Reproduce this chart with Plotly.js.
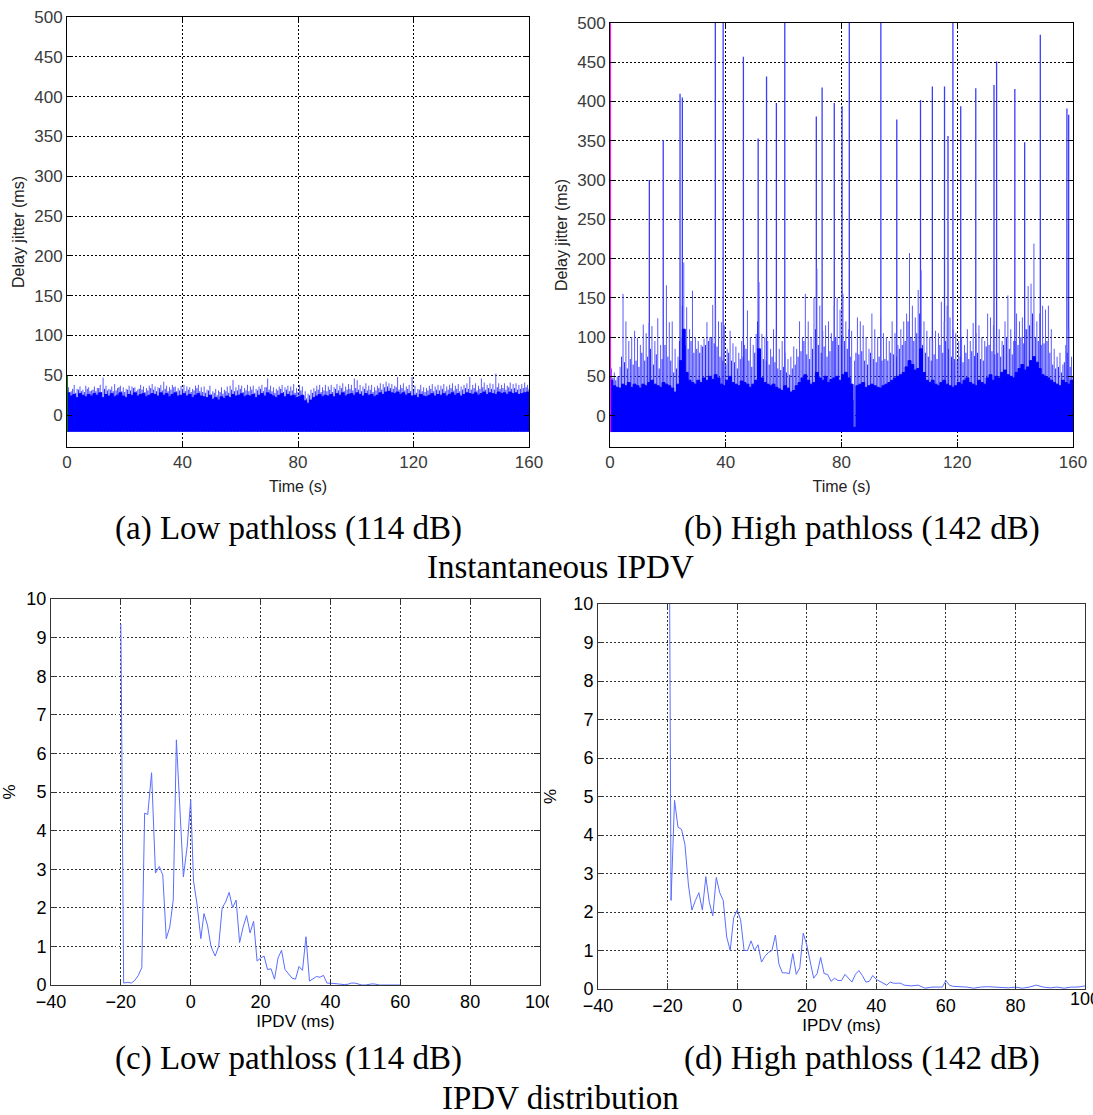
<!DOCTYPE html>
<html>
<head>
<meta charset="utf-8">
<script src="https://cdn.plot.ly/plotly-3.0.1.min.js"></script>
<style>html,body{margin:0;padding:0;background:#fff;}#chart{width:1093px;height:1115px;}</style>
</head>
<body>
<div id="chart"></div>
<script>
// ---------------- DATA ----------------
// (a) Low pathloss: per-second top of the dense band, of mid-height and of the tallest thin jitter lines (ms)
const lowTime = Array.from({length: 161}, (_, i) => i);
const lowDense = [
 28,24,26,22,27,25,23,26,24,27,
 25,28,22,26,24,27,23,25,28,24,
 22,26,25,28,24,26,27,23,25,27,
 26,24,28,25,27,23,26,28,24,25,
 27,24,26,22,25,27,24,23,22,25,
 20,22,19,23,21,24,22,26,24,25,
 27,23,25,24,26,22,25,27,24,28,
 26,24,22,25,27,23,26,24,25,22,
 23,25,18,15,19,22,24,26,23,25,
 24,26,23,27,25,28,24,26,27,25,
 28,26,24,27,25,26,23,25,28,26,
 29,30,28,27,29,26,28,25,27,24,
 25,22,26,24,23,25,27,24,26,25,
 27,24,26,28,25,27,24,26,28,27,
 26,28,25,27,29,26,28,27,26,29,
 27,28,26,29,27,28,26,27,28,29,
 27];
const lowMid = [
 31,29,33,28,32,30,29,33,30,32,
 30,34,29,33,31,32,30,31,35,30,
 29,32,31,34,30,33,32,29,31,34,
 32,30,34,31,33,30,32,35,30,31,
 33,30,32,29,31,34,30,29,28,31,
 26,28,25,29,27,30,28,32,30,31,
 33,29,31,30,32,28,31,33,30,35,
 32,30,28,31,33,29,32,30,31,28,
 29,31,24,21,25,28,30,32,29,31,
 30,32,29,33,31,34,30,32,33,31,
 34,32,30,33,31,32,29,31,34,32,
 35,36,34,33,35,32,34,31,33,30,
 31,28,32,30,29,31,33,30,32,31,
 33,30,32,34,31,33,30,32,34,33,
 32,34,31,33,35,32,34,33,32,35,
 33,34,32,35,33,34,32,33,34,35,
 33];
const lowPeak = [
 35,30,38,33,36,32,37,35,31,36,
 34,38,47,37,33,36,39,34,37,35,
 33,37,36,35,32,38,36,34,37,39,
 36,35,38,42,37,35,38,36,34,37,
 38,36,35,33,37,38,35,36,32,37,
 30,33,31,35,32,36,37,44,35,38,
 37,34,38,36,37,33,36,38,35,46,
 37,35,33,36,38,35,37,36,39,34,
 38,36,30,27,32,34,37,38,35,38,
 36,38,35,39,37,40,36,39,38,46,
 44,38,36,40,37,38,35,37,40,39,
 42,40,39,37,48,38,40,36,38,48,
 37,33,38,35,34,37,39,36,38,37,
 39,36,38,40,37,39,36,38,40,48,
 38,40,37,46,41,38,40,39,52,40,
 38,40,37,41,39,40,38,39,41,38,
 36];

// (b) High pathloss
const highTime = Array.from({length: 161}, (_, i) => i);
const highDense = [
 45,38,36,35,40,38,42,36,40,38,
 35,40,38,42,45,40,38,36,42,40,
 38,35,30,40,70,110,55,45,42,40,
 45,42,48,45,50,46,52,48,40,38,
 45,50,42,40,38,44,42,40,36,40,
 45,85,48,42,40,38,40,36,34,32,
 38,35,30,32,38,42,48,52,45,40,
 42,55,48,45,50,42,46,48,50,45,
 52,55,48,40,-15,38,40,42,36,38,
 40,38,36,35,38,40,42,45,48,50,
 52,55,62,70,65,58,60,85,55,45,
 42,45,40,38,42,45,40,38,36,38,
 42,40,45,48,42,40,38,45,42,40,
 48,52,45,50,48,55,58,52,50,48,
 55,60,65,58,62,70,75,68,60,52,
 50,48,45,42,40,38,45,42,40,45,
 40];
const highMid = [
 52,48,45,50,75,68,60,72,65,70,
 62,80,70,75,85,65,78,60,72,90,
 75,70,55,60,95,140,90,85,95,80,
 85,80,88,90,95,100,92,88,75,70,
 65,80,70,68,60,72,75,85,70,62,
 80,120,78,72,70,65,75,68,60,58,
 62,55,52,60,65,75,82,95,78,72,
 85,110,90,80,88,75,82,95,100,90,
 100,95,85,75,20,80,78,82,70,65,
 80,72,68,75,70,72,70,80,78,75,
 85,90,95,120,100,95,105,130,90,80,
 75,70,78,72,90,80,95,85,75,72,
 70,75,68,80,72,82,76,80,72,70,
 88,90,82,78,80,75,90,100,85,78,
 95,90,100,92,110,115,130,100,95,90,
 92,95,80,65,60,62,55,68,80,62,
 50];
const highPeak = [
 60,55,50,62,155,120,95,100,108,99,
 90,116,105,118,114,95,124,90,85,166,
 119,120,85,75,100,195,138,110,159,100,
 95,90,98,119,100,141,141,120,119,115,
 85,108,92,88,80,95,90,134,100,90,
 104,170,104,100,95,85,110,98,85,95,
 80,72,75,88,85,120,100,155,120,100,
 150,187,140,108,115,120,105,140,150,135,
 155,120,110,108,70,125,120,115,100,85,
 130,110,100,125,105,100,95,120,105,90,
 110,120,130,207,140,125,160,185,120,108,
 100,95,108,105,145,120,140,125,110,105,
 95,100,90,110,95,118,105,115,100,95,
 130,125,115,100,110,95,120,153,110,95,
 130,120,125,110,165,168,219,120,130,140,
 135,140,110,85,75,80,65,90,110,75,
 60];
const spikeTime = [13.6,18.4,24.2,25.0,36.4,39.1,46.1,51.2,54.1,57.5,60.4,71.3,73.3,77.5,80.2,82.7,93.6,99.1,107.3,111.4,115.6,116.8,118.5,121.2,126.4,132.7,133.6,139.9,143.3,148.7,157.9,158.5];
const spikeValue = [300,351,410,405,500,500,457,353,432,398,500,381,418,398,394,500,500,377,402,419,419,356,500,394,417,421,451,416,348,485,391,383];

// (c) / (d) IPDV distributions
const ipdvLow = [-20,-19.2,-18,-17,-16,-15,-14,-13.2,-12.3,-11.2,-10.1,-9,-8,-7,-6,-5,-4.1,-3,-2.1,-1,0,0.8,1.8,2.9,3.8,4.8,5.8,7,8,9,10,11,12,13,14,15,16,17,18,19,20,21,22,23,24,25,26,27,28,29,30,31,32,33,34,35,36,37,38,39,40,41,42,43,44,45,46,47,48,49,50,51,52,53,54,55,56,57,58,59,60];
const pctLow = [9.35,0.05,0.07,0.05,0.12,0.25,0.45,4.45,4.42,5.5,2.9,3.07,2.85,1.2,1.5,2.2,6.35,4.3,2.8,3.6,4.8,2.7,2.1,1.2,1.85,1.55,1.0,0.75,1.0,2.0,2.15,2.4,2.0,2.2,1.1,1.5,1.8,1.35,1.65,0.62,0.7,0.75,0.4,0.42,0.15,0.7,0.9,0.4,0.28,0.18,0.15,0.48,0.38,1.25,0.1,0.15,0.22,0.2,0.25,0.05,0.05,0.04,0.03,0.02,0.01,0.02,0.05,0.05,0.02,0.0,0.0,0.01,0.03,0.02,0.0,0.0,0.0,0.0,0.0,0.0,0.0];
const ipdvHigh = [-19.6,-19,-18,-17,-16,-15,-14,-13,-12,-11,-10,-9,-8,-7,-6,-5,-4,-3,-2,-1,0,1,2,3,4,5,6,7,8,9,10,11,12,13,14,15,16,17,18,19,20,21,22,23,24,25,26,27,28,29,30,31,32,33,34,35,36,37,38,39,40,41,42,43,44,45,46,47,48,50,52,53,54,56,58,59,60,61,62,64,66,68,70,72,74,76,78,80,82,84,86,88,90,92,94,96,98,100];
const pctHigh = [14,2.3,4.9,4.2,4.15,3.75,2.7,2.05,2.3,2.5,2.05,2.92,2.25,1.9,2.9,2.5,2.3,1.35,1.0,1.85,2.05,1.8,1.0,1.0,1.25,1.0,1.15,0.7,0.85,0.95,1.0,1.4,0.65,0.42,0.42,0.4,0.92,0.38,0.55,1.45,1.15,0.75,0.28,0.4,0.82,0.4,0.38,0.2,0.28,0.22,0.22,0.38,0.28,0.18,0.38,0.48,0.35,0.18,0.2,0.35,0.25,0.2,0.15,0.1,0.18,0.15,0.15,0.15,0.1,0.08,0.1,0.05,0.02,0.05,0.06,0.05,0.22,0.1,0.07,0.06,0.05,0.02,0.05,0.06,0.05,0.05,0.03,0.05,0.02,0.05,0.1,0.05,0.03,0.05,0.02,0.05,0.05,0.08];

const xTicksTop = [0,40,80,120,160];
const yTicksTop = [0,50,100,150,200,250,300,350,400,450,500];
const xTicksBot = [-40,-20,0,20,40,60,80,100];
const yTicksBot = [0,1,2,3,4,5,6,7,8,9,10];
const captions = ['(a) Low pathloss (114 dB)','(b) High pathloss (142 dB)','Instantaneous IPDV',
                  '(c) Low pathloss (114 dB)','(d) High pathloss (142 dB)','IPDV distribution'];

// ---------------- BUILD ----------------
const FLOOR = -21;
function stems(t, v, offset) {
  const vx = [], vy = [];
  t.forEach((ti, i) => { vx.push(ti + offset, ti + offset, null); vy.push(FLOOR, v[i], null); });
  return {vx, vy};
}
function bandTraces(t, dense, mid, peak, xa, ya) {
  const p = stems(t, peak, 0.5), m = stems(t, mid, 0.0);
  return [
    {x: p.vx, y: p.vy, xaxis: xa, yaxis: ya, mode: 'lines', line: {width: 1, color: 'rgb(90,90,255)'}, connectgaps: false},
    {x: m.vx, y: m.vy, xaxis: xa, yaxis: ya, mode: 'lines', line: {width: 1, color: 'rgb(40,40,255)'}, connectgaps: false},
    {x: t, y: t.map(() => FLOOR), xaxis: xa, yaxis: ya, mode: 'lines', line: {width: 0, color: 'blue'}, hoverinfo: 'skip'},
    {x: t, y: dense, xaxis: xa, yaxis: ya, mode: 'lines', fill: 'tonexty', fillcolor: 'rgb(0,0,255)', line: {width: 1, color: 'rgb(0,0,255)', shape: 'hv'}}
  ];
}
function spikeTrace(t, v, xa, ya) {
  const s = stems(t, v, 0);
  return {x: s.vx, y: s.vy, xaxis: xa, yaxis: ya, mode: 'lines', line: {width: 1.3, color: 'rgb(60,60,255)'}, connectgaps: false};
}

const traces = [
  ...bandTraces(lowTime, lowDense, lowMid, lowPeak, 'x', 'y'),
  {x: [0.15, 0.15], y: [FLOOR, 50], xaxis: 'x', yaxis: 'y', mode: 'lines', line: {width: 1, color: 'green'}},
  spikeTrace(spikeTime, spikeValue, 'x2', 'y2'),
  ...bandTraces(highTime, highDense, highMid, highPeak, 'x2', 'y2'),
  {x: [0.2, 0.2], y: [FLOOR, 500], xaxis: 'x2', yaxis: 'y2', mode: 'lines', line: {width: 1, color: 'magenta'}},
  {x: ipdvLow, y: pctLow, xaxis: 'x3', yaxis: 'y3', mode: 'lines', line: {width: 1, color: 'rgb(90,110,255)'}},
  {x: ipdvHigh, y: pctHigh, xaxis: 'x4', yaxis: 'y4', mode: 'lines', line: {width: 1, color: 'rgb(90,110,255)'}}
];

const W = 1093, H = 1115;
const dx = (a, b) => [a / W, b / W];
const dy = (top, bot) => [1 - bot / H, 1 - top / H];

const SANS = 'Liberation Sans, Arial, sans-serif';
const topTick = {family: SANS, size: 17, color: '#3a3a3a'};
const topTitle = {family: SANS, size: 16, color: '#222'};
const botTick = {family: SANS, size: 18, color: '#000'};
const botTitle = {family: SANS, size: 17, color: '#000'};

function topX(dom, anchor) {
  return {domain: dom, anchor: anchor, range: [0, 160], tickvals: xTicksTop, ticktext: xTicksTop.map(String),
    ticks: 'inside', ticklen: 5, tickcolor: '#000', showline: true, linecolor: '#000', linewidth: 1, mirror: 'ticks',
    showgrid: true, gridcolor: '#000', griddash: '2px,2px', gridwidth: 1, zeroline: false, tickfont: topTick,
    title: {text: 'Time (s)', font: topTitle, standoff: 9}};
}
function topY(dom, anchor) {
  return {domain: dom, anchor: anchor, range: [-40, 500], tickvals: yTicksTop, ticktext: yTicksTop.map(String),
    ticks: 'inside', ticklen: 5, tickcolor: '#000', showline: true, linecolor: '#000', linewidth: 1, mirror: 'ticks',
    showgrid: true, gridcolor: '#000', griddash: '2px,2px', gridwidth: 1, zeroline: false, tickfont: topTick,
    title: {text: 'Delay jitter (ms)', font: topTitle, standoff: 5}};
}
function botX(dom, anchor) {
  return {domain: dom, anchor: anchor, range: [-40, 100], tickvals: xTicksBot,
    ticks: 'inside', ticklen: 6, tickcolor: '#333', showline: true, linecolor: '#333', linewidth: 1, mirror: 'ticks',
    showgrid: true, gridcolor: '#333', griddash: '1.5px,2.5px', gridwidth: 1, zeroline: false, tickfont: botTick,
    title: {text: 'IPDV (ms)', font: botTitle, standoff: 0}};
}
function botY(dom, anchor) {
  return {domain: dom, anchor: anchor, range: [0, 10], tickvals: yTicksBot,
    ticks: 'inside', ticklen: 6, tickcolor: '#333', showline: true, linecolor: '#333', linewidth: 1, mirror: 'ticks',
    showgrid: true, gridcolor: '#333', griddash: '1.5px,2.5px', gridwidth: 1, zeroline: false, tickfont: botTick,
    title: {text: '%', font: botTitle, standoff: 12}};
}

const capFont = {family: 'Liberation Serif, Times New Roman, serif', size: 33, color: '#000'};
const capPos = [[288, 528], [862, 528], [560, 567], [288, 1058], [862, 1058], [560, 1098]];
const annotations = captions.map((c, i) => ({text: c, xref: 'paper', yref: 'paper', x: capPos[i][0] / W, y: 1 - capPos[i][1] / H,
    xanchor: 'center', yanchor: 'middle', showarrow: false, font: capFont}));
// right-most tick label of panel (d), which the reference shows cut by the figure edge
annotations.push({text: String(xTicksBot[xTicksBot.length - 1]), xref: 'x4', yref: 'paper', x: 100, y: 1 - 999 / H,
  xanchor: 'center', yanchor: 'middle', showarrow: false, font: botTick});

const layout = {
  width: W, height: H, margin: {l: 0, r: 0, t: 0, b: 0},
  paper_bgcolor: '#fff', plot_bgcolor: '#fff', showlegend: false,
  xaxis: topX(dx(67, 529), 'y'), yaxis: topY(dy(17, 447), 'x'),
  xaxis2: topX(dx(610, 1073), 'y2'), yaxis2: topY(dy(23, 447), 'x2'),
  xaxis3: botX(dx(51, 540), 'y3'), yaxis3: botY(dy(599, 985), 'x3'),
  xaxis4: botX(dx(598, 1085), 'y4'), yaxis4: botY(dy(604, 989), 'x4'),
  annotations: annotations,
  shapes: [{type: 'rect', xref: 'paper', yref: 'paper', x0: 549 / W, x1: 566 / W, y0: 1 - 1010 / H, y1: 1 - 987 / H,
    fillcolor: '#fff', line: {width: 0}, layer: 'above'}]
};

Plotly.newPlot('chart', traces, layout, {staticPlot: true, displayModeBar: false});
</script>
</body>
</html>
